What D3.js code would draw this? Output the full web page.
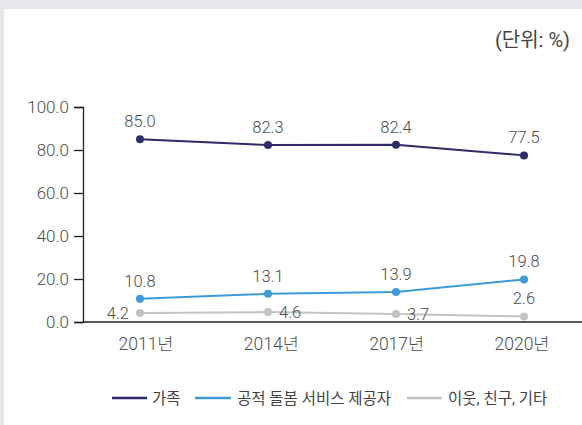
<!DOCTYPE html>
<html>
<head>
<meta charset="utf-8">
<script src="https://cdn.jsdelivr.net/npm/d3@7/dist/d3.min.js"></script>
<style>
  html, body { margin: 0; padding: 0; background: #e6e7ea; }
  svg { display: block; }
  text { font-family: Roboto, "Noto Sans CJK KR", sans-serif; fill: #4d4d4d; font-weight: 300; }
</style>
</head>
<body>
<svg id="chart" width="582" height="425"></svg>
<script>
const categories = ["2011년", "2014년", "2017년", "2020년"];
const seriesNames = ["가족", "공적 돌봄 서비스 제공자", "이웃, 친구, 기타"];
const family = [85.0, 82.3, 82.4, 77.5];
const publicCare = [10.8, 13.1, 13.9, 19.8];
const others = [4.2, 4.6, 3.7, 2.6];
const yTicks = [0, 20, 40, 60, 80, 100];
const unitLabel = "(단위: %)";

const colors = ["#2d2c69", "#3d9ad9", "#c3c3c7"];
const series = [family, publicCare, others];
// label placement for each point: "above", "left", "right"
const labelPos = [
  ["above", "above", "above", "above"],
  ["above", "above", "above", "above"],
  ["left", "right", "right", "above"]
];
const FONT = "Roboto, 'Noto Sans CJK KR', sans-serif";

const svg = d3.select("#chart");
// white panel
svg.append("rect").attr("x", 4).attr("y", 9).attr("width", 578).attr("height", 416).attr("fill", "#fff");

const y = d3.scaleLinear().domain([0, 100]).range([322, 107]);
const x = d3.scalePoint().domain(categories).range([140, 524]);
const xLab = d3.scalePoint().domain(categories).range([145.5, 521.5]);

svg.append("text").attr("x", 570).attr("y", 47).attr("text-anchor", "end")
  .style("font-size", "20px").style("fill", "#444").style("font-weight", 400).text(unitLabel);

// y axis
const yAxis = svg.append("g").attr("transform", "translate(83,0)")
  .call(d3.axisLeft(y).tickValues(yTicks).tickFormat(d3.format(".1f")).tickSize(9).tickPadding(5));
yAxis.select(".domain").attr("stroke", "#222").attr("stroke-width", 1.3);
yAxis.selectAll(".tick line").attr("stroke", "#222").attr("stroke-width", 1.3);
yAxis.selectAll(".tick text").style("font-size", "17px").style("fill", "#4d4d4d")
  .style("font-family", FONT).style("font-weight", 300);

// x axis baseline
svg.append("line").attr("x1", 83).attr("x2", 582).attr("y1", y(0)).attr("y2", y(0))
  .attr("stroke", "#222").attr("stroke-width", 1.3);
const xAxis = svg.append("g").attr("transform", `translate(0,${y(0)})`)
  .call(d3.axisBottom(xLab).tickSize(0).tickPadding(16));
xAxis.select(".domain").remove();
xAxis.selectAll(".tick text").style("font-size", "17.5px").style("fill", "#4d4d4d")
  .style("font-family", FONT).style("font-weight", 300);

const line = d3.line().x((d, i) => x(categories[i])).y(d => y(d));

// draw gray first, then blue, then navy
[2, 1, 0].forEach(si => {
  const vals = series[si];
  svg.append("path").datum(vals).attr("d", line).attr("fill", "none")
    .attr("stroke", colors[si]).attr("stroke-width", 2);
  svg.selectAll(null).data(vals).enter().append("circle")
    .attr("cx", (d, i) => x(categories[i])).attr("cy", d => y(d)).attr("r", 4)
    .attr("fill", colors[si]);
});

series.forEach((vals, si) => {
  svg.selectAll(null).data(vals).enter().append("text")
    .attr("x", (d, i) => {
      const p = labelPos[si][i];
      return x(categories[i]) + (p === "left" ? -11 : p === "right" ? 11 : 0);
    })
    .attr("y", (d, i) => {
      const p = labelPos[si][i];
      return y(d) + (p === "above" ? -12 : 6);
    })
    .attr("text-anchor", (d, i) => {
      const p = labelPos[si][i];
      return p === "left" ? "end" : p === "right" ? "start" : "middle";
    })
    .style("font-size", "16.5px").style("fill", "#4d4d4d")
    .text(d => d3.format(".1f")(d));
});

// legend
const legendItems = [
  { x1: 112, x2: 147, tx: 152 },
  { x1: 195, x2: 231, tx: 237 },
  { x1: 407, x2: 442, tx: 448 }
];
const lg = svg.append("g");
seriesNames.forEach((name, i) => {
  const it = legendItems[i];
  lg.append("line").attr("x1", it.x1).attr("x2", it.x2).attr("y1", 398).attr("y2", 398)
    .attr("stroke", colors[i]).attr("stroke-width", 2.5);
  lg.append("text").attr("x", it.tx).attr("y", 403.5).style("font-size", "15.5px")
    .style("fill", "#444").style("font-weight", 400).text(name);
});
</script>
</body>
</html>
